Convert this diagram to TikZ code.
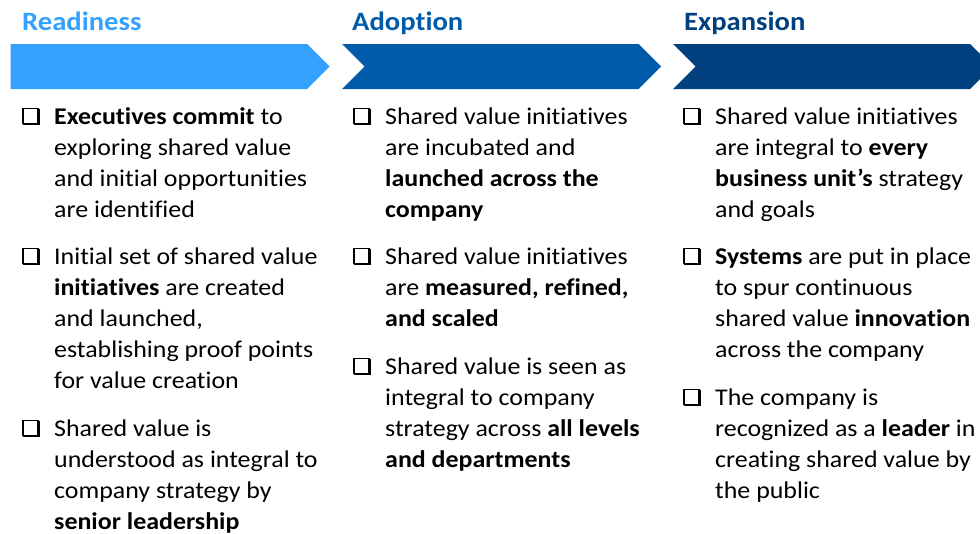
\documentclass[tikz,border=0pt]{standalone}
\usepackage{fontspec}
\setmainfont{Carlito}[FakeStretch=1.08, Ligatures=NoCommon]
\begin{document}
\definecolor{readyblue}{RGB}{51,161,253}
\definecolor{adoptblue}{RGB}{0,91,170}
\definecolor{expandblue}{RGB}{0,64,127}
\begin{tikzpicture}[x=1pt,y=-1pt,
  phase/.style={font=\fontsize{26.5}{30}\selectfont\bfseries, anchor=base west, inner sep=0pt},
  itemtext/.style={font=\fontsize{24}{31}\selectfont, align=left, anchor=north west, inner sep=0pt, text=black},
  chkbox/.pic={
    % shadowed square: thin frame, heavier right and bottom edges
    \fill[black] (14.2,-15.4) rectangle (17,0.8);
    \fill[black] (0.4,-2) rectangle (17,0.8);
    \draw[black, line width=1.6pt] (0,-16.2) rectangle (15,-1.2);
  }]
\clip (0,0) rectangle (980,533);
\fill[white] (0,0) rectangle (980,533);

% phase arrows
\fill[readyblue] (10.5,44) -- (307,44) -- (329.5,66.5) -- (307,89) -- (10.5,89) -- cycle;
\fill[adoptblue] (342,44) -- (638.5,44) -- (661,66.5) -- (638.5,89) -- (342,89) -- (364.5,66.5) -- cycle;
\fill[expandblue] (673,44) -- (970,44) -- (992.5,66.5) -- (970,89) -- (673,89) -- (695.5,66.5) -- cycle;

% phase titles
\node[phase, text=readyblue] (hready) at (22,30.7) {Readiness};
\node[phase, text=adoptblue] (hadopt) at (352,30.7) {Adoption};
\node[phase, text=expandblue] (hexpand) at (684,30.7) {Expansion};

% Readiness
\node[itemtext] (r1) at (54,102.8) {\strut\textbf{Executives commit} to\\exploring shared value\\and initial opportunities\\are identified};
\node[itemtext] (r2) at (54,242.8) {\strut Initial set of shared value\\\textbf{initiatives} are created\\and launched,\\establishing proof points\\for value creation};
\node[itemtext] (r3) at (54,414.8) {\strut Shared value is\\understood as integral to\\company strategy by\\\textbf{senior leadership}};

% Adoption
\node[itemtext] (a1) at (385,102.8) {\strut Shared value initiatives\\are incubated and\\\textbf{launched across the}\\\textbf{company}};
\node[itemtext] (a2) at (385,242.8) {\strut Shared value initiatives\\are \textbf{measured, refined,}\\\textbf{and scaled}};
\node[itemtext] (a3) at (385,352.8) {\strut Shared value is seen as\\integral to company\\strategy across \textbf{all levels}\\\textbf{and departments}};

% Expansion
\node[itemtext] (e1) at (715,102.8) {\strut Shared value initiatives\\are integral to \textbf{every}\\\textbf{business unit’s} strategy\\and goals};
\node[itemtext] (e2) at (715,242.8) {\strut\textbf{Systems} are put in place\\to spur continuous\\shared value \textbf{innovation}\\across the company};
\node[itemtext] (e3) at (715,383.8) {\strut The company is\\recognized as a \textbf{leader} in\\creating shared value by\\the public};

% check boxes at the baseline of each item's first line
\foreach \n in {r1,r2,r3,a1,a2,a3,e1,e2,e3}
  \pic at ([xshift=-31pt,yshift=-21.7pt]\n.north west) {chkbox};
\end{tikzpicture}
\end{document}
